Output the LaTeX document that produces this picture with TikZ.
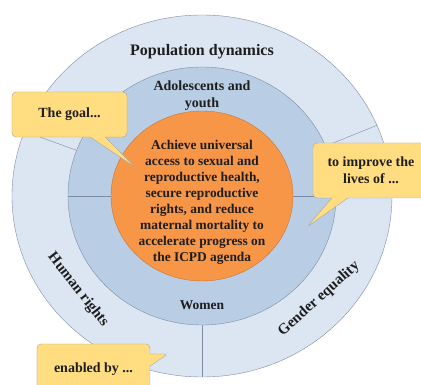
\documentclass[tikz,border=0pt]{standalone}
\usepackage{fontspec}
\setmainfont{Liberation Serif}
\usetikzlibrary{shapes.geometric,shapes.callouts}
\definecolor{ring_outer}{RGB}{220,230,242}
\definecolor{ring_mid}{RGB}{185,205,229}
\definecolor{core_orange}{RGB}{247,150,70}
\definecolor{note_yellow}{RGB}{255,221,128}
\definecolor{edge_blue}{RGB}{125,140,165}
\definecolor{ink}{RGB}{30,30,30}

\begin{document}
\begin{tikzpicture}[x=1pt,y=1pt,font=\bfseries,text=ink,
	note/.style={rectangle callout,draw=gray!70,fill=note_yellow,rounded corners=4pt,align=center,font=\bfseries\fontsize{14}{17}\selectfont}]
	\useasboundingbox (-202,-189) rectangle (219,196);
	\clip (-202,-189) rectangle (219,196);

	\node[ellipse,draw=edge_blue,fill=ring_outer,inner sep=0pt,minimum width=380pt,minimum height=362pt] (outer) at (0,0) {};
	\node[ellipse,draw=edge_blue,fill=ring_mid,inner sep=0pt,minimum width=268pt,minimum height=258pt] (mid) at (0,0) {};
	\node[ellipse,draw=core_orange!80!black,fill=core_orange,inner sep=0pt,minimum width=182pt,minimum height=170pt] (core) at (0,0) {};

	\foreach \a in {160,22,-90}
		\draw[edge_blue] (outer.\a) -- (mid.\a);
	\foreach \a in {0,180}
		\draw[edge_blue] (mid.\a) -- (core.\a);

	\node[font=\bfseries\fontsize{16}{19}\selectfont] (popdyn) at (0,144) {Population dynamics};
	\node[align=center,font=\bfseries\fontsize{14}{17}\selectfont] (youth) at (0,100.5) {Adolescents and\\youth};
	\node[align=center,font=\bfseries\fontsize{13.4}{16}\selectfont] (aim) at (0,-6.5) {Achieve universal\\access to sexual and\\reproductive health,\\secure reproductive\\rights, and reduce\\maternal mortality to\\accelerate progress on\\the ICPD agenda};
	\node[font=\bfseries\fontsize{13.5}{16}\selectfont] (women) at (0,-109) {Women};
	\node[rotate=-52,font=\bfseries\fontsize{15}{18}\selectfont] (rights) at (-124,-94) {Human rights};
	\node[rotate=42,font=\bfseries\fontsize{15}{18}\selectfont] (gender) at (117,-103) {Gender equality};

	\node[note,minimum width=115pt,minimum height=45pt,callout absolute pointer={(-67,29)},callout pointer width=15pt] (goal) at (-132.5,81.5) {The goal...};
	\node[note,minimum width=116pt,minimum height=55pt,callout absolute pointer={(105,-31)},callout pointer width=16pt] (improve) at (169,25.5) {to improve the\\lives of ...};
	\node[note,minimum width=113pt,minimum height=50pt,callout absolute pointer={(-34,-158)},callout pointer width=12pt] (enabled) at (-108.5,-173) {enabled by ...};
\end{tikzpicture}
\end{document}
